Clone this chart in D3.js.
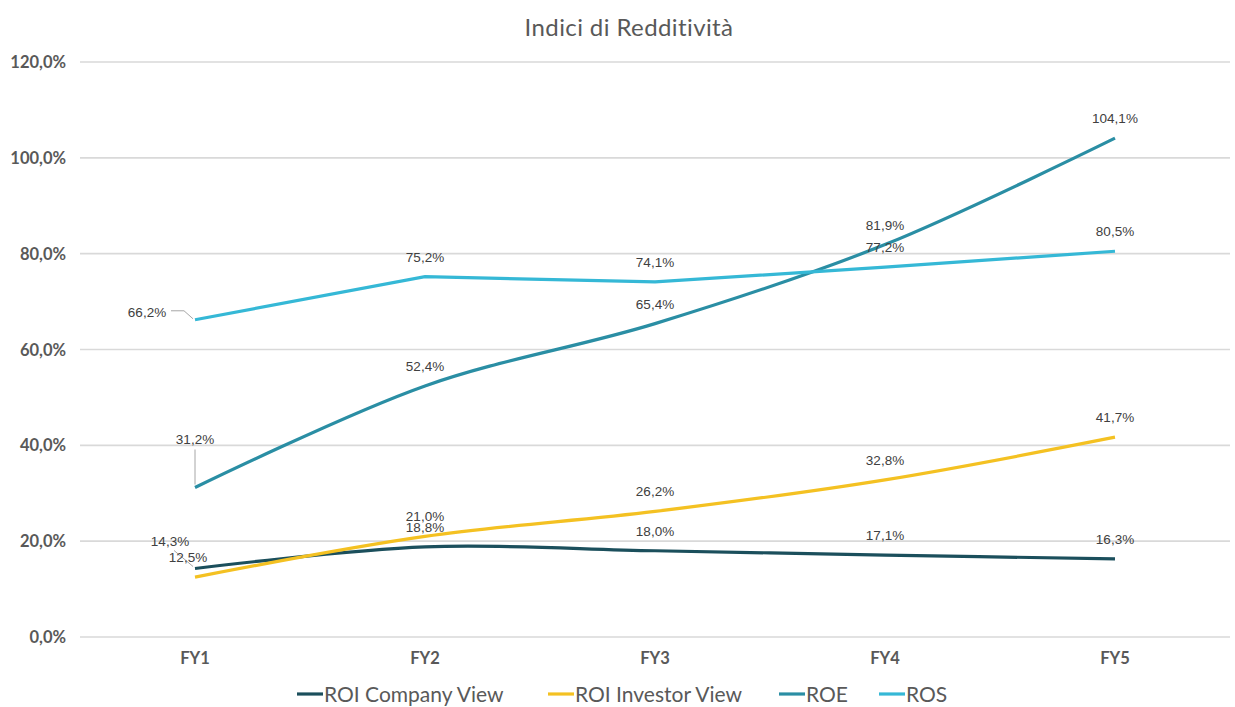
<!DOCTYPE html>
<html>
<head>
<meta charset="utf-8">
<title>Indici di Redditività</title>
<script src="https://cdn.jsdelivr.net/npm/d3@7"></script>
<style>
  body { margin:0; background:#fff; }
  svg { font-family: "Lato", "Noto Sans", sans-serif; }
  .grid line { stroke:#d9d9d9; stroke-width:1.6px; }
  .ylab { font-weight:bold; font-size:16.5px; fill:#595959; }
  .xlab { font-weight:bold; font-size:16.5px; fill:#595959; }
  .dl { font-family:"Liberation Sans", sans-serif; font-size:13.5px; fill:#404040; }
  .leader { stroke:#a6a6a6; fill:none; stroke-width:1px; }
</style>
</head>
<body>
<svg id="chart" width="1235" height="707"></svg>
<script>
// data
const years = ["FY1", "FY2", "FY3", "FY4", "FY5"];
const roiCompany  = [14.3, 18.8, 18.0, 17.1, 16.3];
const roiInvestor = [12.5, 21.0, 26.2, 32.8, 41.7];
const roe = [31.2, 52.4, 65.4, 81.9, 104.1];
const ros = [66.2, 75.2, 74.1, 77.2, 80.5];
const yTicks = [0, 20, 40, 60, 80, 100, 120];

const series = [
  {name:"ROI Company View",  values:roiCompany,  color:"#1b4f5c", curve:d3.curveCatmullRom},
  {name:"ROI Investor View", values:roiInvestor, color:"#f4c122", curve:d3.curveCatmullRom},
  {name:"ROE",               values:roe,         color:"#2a8ea4", curve:d3.curveCatmullRom},
  {name:"ROS",               values:ros,         color:"#35b8d6", curve:d3.curveLinear}
];

const svg = d3.select("#chart");
const W = 1235, H = 707;
const m = {l:80, r:5, t:62, b:70};

const x = d3.scaleBand().domain(years).range([m.l, W - m.r]);
const y = d3.scaleLinear().domain([0, 120]).range([H - m.b, m.t]);
const cx = d => x(d) + x.bandwidth()/2;
const fmt = v => d3.format(".1f")(v).replace(".", ",") + "%";

svg.append("text").attr("x", 629).attr("y", 36).attr("text-anchor", "middle")
  .attr("font-size", 24).attr("letter-spacing", 0.4).attr("fill", "#595959")
  .text("Indici di Redditività");

// grid + y axis
const g = svg.append("g").attr("class", "grid");
g.selectAll("line").data(yTicks).enter().append("line")
  .attr("x1", m.l).attr("x2", W - m.r)
  .attr("y1", d => y(d)).attr("y2", d => y(d));
svg.selectAll(".ylab").data(yTicks).enter().append("text").attr("class", "ylab")
  .attr("x", 66).attr("y", d => y(d) + 6).attr("text-anchor", "end")
  .text(d => fmt(d));
svg.selectAll(".xlab").data(years).enter().append("text").attr("class", "xlab")
  .attr("x", cx).attr("y", H - m.b + 27).attr("text-anchor", "middle").text(d => d);

// lines
svg.selectAll(".series").data(series).enter().append("path")
  .attr("fill", "none").attr("stroke", d => d.color).attr("stroke-width", 3.2)
  .attr("d", d => d3.line().x((v, i) => cx(years[i])).y(v => y(v)).curve(d.curve)(d.values));

// data labels (default: centered above the point), a few moved like in the source
const moved = {
  "3-0": {dx:-48, dy:-3},
  "2-0": {dx:0,  dy:-44},
  "0-0": {dx:-25, dy:-22},
  "1-0": {dx:-7, dy:-15}
};
series.forEach((s, si) => {
  s.values.forEach((v, i) => {
    const px = cx(years[i]), py = y(v);
    const o = moved[si + "-" + i] || {dx:0, dy:-15};
    const tx = px + o.dx, ty = py + o.dy;
    let p = null;
    if (si === 3 && i === 0) p = [[px - 2, py - 1], [px - 11, ty - 6], [tx + 24, ty - 6]];
    if (si === 2 && i === 0) p = [[px, py - 3], [px, ty + 6]];
    if (si === 0 && i === 0) p = [[px - 2, py - 2], [tx + 4, ty + 4]];
    if (p) svg.append("path").attr("class", "leader").attr("d", d3.line()(p));
    svg.append("text").attr("class", "dl").attr("x", tx).attr("y", ty)
      .attr("text-anchor", "middle").text(fmt(v));
  });
});

// legend
const legX = [297, 548, 779, 879];
const lg = svg.selectAll(".leg").data(series).enter().append("g")
  .attr("transform", (d, i) => `translate(${legX[i]},694)`);
lg.append("line").attr("x1", 0).attr("x2", 26).attr("stroke", d => d.color).attr("stroke-width", 3.2);
lg.append("text").attr("x", 27).attr("y", 7.5).attr("font-size", 21).attr("fill", "#595959").text(d => d.name);
</script>
</body>
</html>
